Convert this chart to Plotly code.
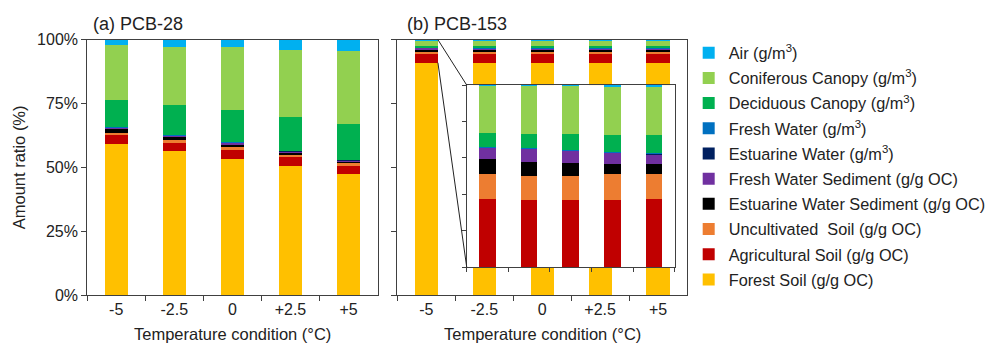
import plotly.graph_objects as go

W, H = 991, 353
FONT = "Liberation Sans, Arial, sans-serif"

categories = ["-5", "-2.5", "0", "+2.5", "+5"]

series_names = [
    "Forest Soil (g/g OC)",
    "Agricultural Soil (g/g OC)",
    "Uncultivated  Soil (g/g OC)",
    "Estuarine Water Sediment (g/g OC)",
    "Fresh Water Sediment (g/g OC)",
    "Estuarine Water (g/m<sup>3</sup>)",
    "Fresh Water (g/m<sup>3</sup>)",
    "Deciduous Canopy (g/m<sup>3</sup>)",
    "Coniferous Canopy (g/m<sup>3</sup>)",
    "Air (g/m<sup>3</sup>)",
]
series_colors = ["#FFC000", "#C00000", "#ED7D31", "#000000", "#7030A0",
                 "#002060", "#0070C0", "#00B050", "#92D050", "#00B0F0"]

# (a) PCB-28, amount ratio (%)
forest_a = [59.2, 56.3, 53.4, 50.6, 47.3]
agri_a = [3.3, 3.3, 3.4, 3.4, 3.4]
uncult_a = [1.1, 1.3, 1.1, 1.0, 0.9]
estsed_a = [1.4, 0.9, 1.2, 0.9, 0.8]
fwsed_a = [0.8, 0.9, 0.7, 0.6, 0.6]
estw_a = [0.05, 0.05, 0.05, 0.05, 0.05]
fw_a = [0.05, 0.05, 0.05, 0.05, 0.05]
decid_a = [10.6, 11.6, 12.4, 13.2, 13.8]
conif_a = [21.4, 22.9, 24.7, 26.3, 28.5]
air_a = [2.1, 2.7, 3.0, 3.9, 4.6]

# (b) PCB-153, amount ratio (%)
forest_b = [90.98, 90.96, 90.95, 90.96, 90.97]
agri_b = [3.39, 3.35, 3.35, 3.35, 3.39]
uncult_b = [1.26, 1.20, 1.22, 1.28, 1.26]
estsed_b = [0.71, 0.71, 0.65, 0.52, 0.49]
fwsed_b = [0.58, 0.63, 0.58, 0.54, 0.47]
estw_b = [0.01, 0.01, 0.01, 0.02, 0.02]
fw_b = [0.01, 0.01, 0.01, 0.02, 0.02]
decid_b = [0.69, 0.69, 0.79, 0.85, 0.90]
conif_b = [2.35, 2.42, 2.42, 2.38, 2.40]
air_b = [0.02, 0.02, 0.02, 0.08, 0.08]

data_a = [forest_a, agri_a, uncult_a, estsed_a, fwsed_a, estw_a, fw_a, decid_a, conif_a, air_a]
data_b = [forest_b, agri_b, uncult_b, estsed_b, fwsed_b, estw_b, fw_b, decid_b, conif_b, air_b]

y_ticks = [0, 25, 50, 75, 100]
y_ticktext = ["0%", "25%", "50%", "75%", "100%"]
inset_range = [91, 100]
inset_ticks = [91, 92.8, 94.6, 96.4, 98.2, 100]

xa_dom = [88 / W, 381 / W]
xb_dom = [401 / W, 693.3 / W]
y_dom = [(H - 301.7) / H, (H - 33.3) / H]
xi_dom = [471 / W, 681 / W]
yi_dom = [(H - 272.3) / H, (H - 81) / H]

fig = go.Figure()
n = len(series_names)
for i, (name, color, ya, yb) in enumerate(zip(series_names, series_colors, data_a, data_b)):
    rank = n - i
    fig.add_trace(go.Bar(x=categories, y=ya, name=name, marker=dict(color=color, line=dict(width=0)),
                         legendgroup=name, legendrank=rank, xaxis="x", yaxis="y"))
    fig.add_trace(go.Bar(x=categories, y=yb, name=name, marker=dict(color=color, line=dict(width=0)),
                         legendgroup=name, legendrank=rank, showlegend=False, xaxis="x2", yaxis="y2"))
    fig.add_trace(go.Bar(x=categories, y=yb, name=name, marker=dict(color=color, line=dict(width=0)),
                         legendgroup=name, legendrank=rank, showlegend=False, xaxis="x3", yaxis="y3"))

AX = "#404040"
tickfont = dict(family=FONT, size=16, color="#222")
xcommon = dict(type="category", tickson="boundaries", ticks="outside", ticklen=5, tickcolor=AX,
               showline=True, linecolor=AX, linewidth=1, mirror=True, tickfont=tickfont,
               showgrid=False, zeroline=False, fixedrange=True)
ycommon = dict(range=[0, 100], tickmode="array", tickvals=y_ticks, ticks="outside", ticklen=5,
               tickcolor=AX, showline=True, linecolor=AX, linewidth=1, mirror=True, showgrid=False,
               zeroline=False, tickfont=tickfont, fixedrange=True)

fig.update_layout(
    width=W, height=H,
    margin=dict(l=0, r=0, t=0, b=0),
    paper_bgcolor="white", plot_bgcolor="white",
    barmode="stack", bargap=0.6,
    font=dict(family=FONT, size=16, color="#222"),
    xaxis=dict(domain=xa_dom, anchor="y", **xcommon),
    yaxis=dict(domain=y_dom, anchor="x", ticktext=y_ticktext, **ycommon),
    xaxis2=dict(domain=xb_dom, anchor="y2", **xcommon),
    yaxis2=dict(domain=y_dom, anchor="x2", showticklabels=False, **ycommon),
    xaxis3=dict(domain=xi_dom, anchor="y3", type="category", tickson="boundaries", ticks="outside",
                ticklen=4, tickcolor=AX, showline=True, linecolor=AX, linewidth=1, mirror=True,
                showticklabels=False, showgrid=False, zeroline=False, fixedrange=True),
    yaxis3=dict(domain=yi_dom, anchor="x3", range=inset_range, tickvals=inset_ticks, ticks="outside",
                ticklen=4, tickcolor=AX, showline=True, linecolor=AX, linewidth=1, mirror=True,
                showticklabels=False, showgrid=False, zeroline=False, fixedrange=True),
    legend=dict(x=695 / W, y=(H - 29) / H, xanchor="left", yanchor="top",
                traceorder="grouped", tracegroupgap=1.0, itemwidth=30,
                font=dict(family=FONT, size=16.3, color="#222"), bgcolor="rgba(0,0,0,0)"),
    showlegend=True,
)

# connector lines from the first bar of (b) to the inset
def px_x(dom, idx):
    return dom[0] + (idx + 0.5) / len(categories) * (dom[1] - dom[0])

def py(dom, v, rng):
    return dom[0] + (v - rng[0]) / (rng[1] - rng[0]) * (dom[1] - dom[0])

bar_edge = px_x(xb_dom, 0 + 0.2)
for v_main, v_inset in [(100, inset_range[1]), (forest_b[0], inset_range[0])]:
    fig.add_shape(type="line", xref="paper", yref="paper",
                  x0=bar_edge, y0=py(y_dom, v_main, [0, 100]),
                  x1=xi_dom[0], y1=py(yi_dom, v_inset, inset_range),
                  line=dict(color="#222", width=1), layer="above")

ann = [
    dict(text="(a) PCB-28", x=92 / W, y=(H - 17) / H, xanchor="left", font=dict(size=18)),
    dict(text="(b) PCB-153", x=409 / W, y=(H - 17) / H, xanchor="left", font=dict(size=18)),
    dict(text="Temperature condition (°C)", x=(xa_dom[0] + xa_dom[1]) / 2, y=(H - 342) / H,
         xanchor="center", font=dict(size=16.5)),
    dict(text="Temperature condition (°C)", x=(xb_dom[0] + xb_dom[1]) / 2, y=(H - 342) / H,
         xanchor="center", font=dict(size=16.5)),
    dict(text="Amount ratio (%)", x=20 / W, y=(y_dom[0] + y_dom[1]) / 2, textangle=-90,
         xanchor="center", font=dict(size=16.5)),
]
for a in ann:
    a.update(xref="paper", yref="paper", yanchor="middle", showarrow=False)
    a["font"] = dict(family=FONT, color="#222", **a["font"])
    fig.add_annotation(**a)

fig.write_html("out.html")
